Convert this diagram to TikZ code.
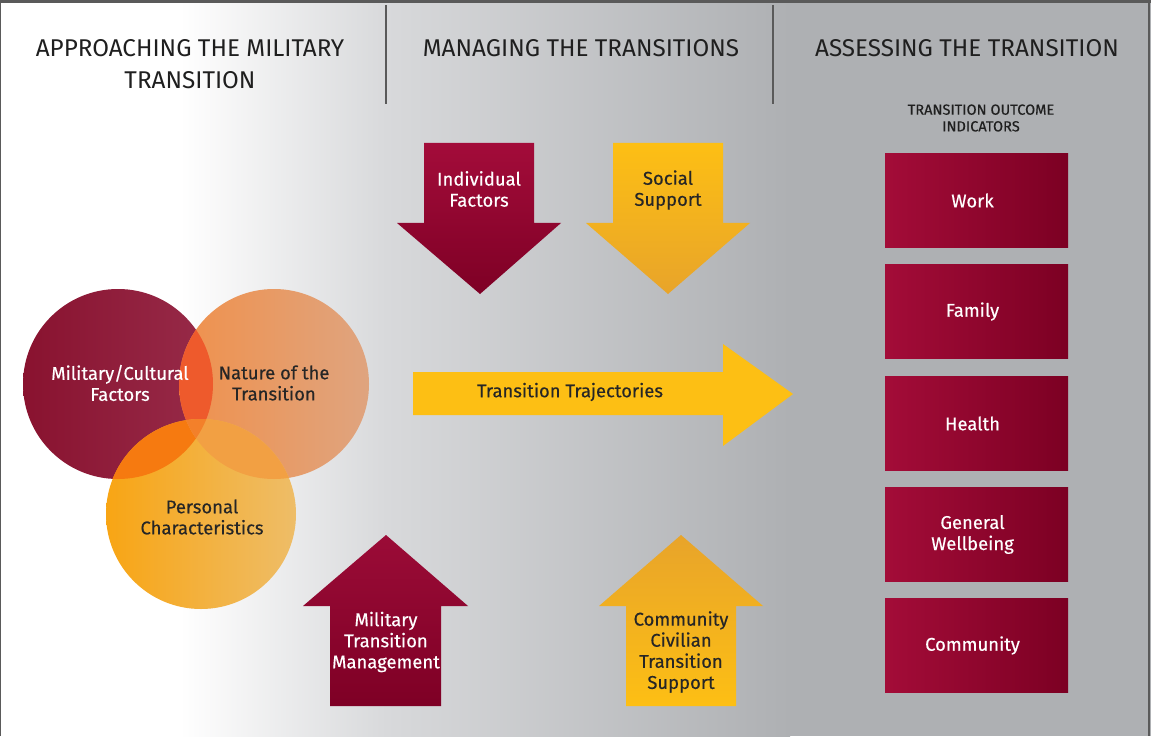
\documentclass[tikz,border=0pt]{standalone}
\usepackage{fontspec}
\setmainfont{Fira Sans}
\newfontfamily\labelfont[FakeBold=0.35]{Fira Sans}
\usepackage{tikz}
\usetikzlibrary{positioning}
\definecolor{BgMid}{HTML}{D8D9DB}
\definecolor{BgDark}{HTML}{AEB0B3}
\definecolor{FrameGray}{HTML}{5A5A5A}
\definecolor{HdrText}{HTML}{1F1F1F}
\definecolor{DarkText}{HTML}{262626}
\definecolor{MarTop}{HTML}{A30C3A}
\definecolor{MarBot}{HTML}{7E0025}
\definecolor{GoldTop}{HTML}{FDBF14}
\definecolor{GoldBot}{HTML}{E8A42A}
\definecolor{OutLeft}{HTML}{A30C38}
\definecolor{OutMid}{HTML}{84002A}
\definecolor{OutRight}{HTML}{7C0023}
\definecolor{CircMar}{HTML}{89122F}
\definecolor{CircMarR}{HTML}{972B49}
\definecolor{CircOra}{HTML}{F0914C}
\definecolor{CircOraR}{HTML}{DFA47F}
\definecolor{CircYel}{HTML}{F8A514}
\definecolor{CircYelR}{HTML}{EEBD68}
\definecolor{LensRO}{HTML}{EE5A2C}
\definecolor{LensMY}{HTML}{F67A10}
\definecolor{LensOY}{HTML}{F2A043}
\definecolor{LensAll}{HTML}{F3802A}

\begin{document}
\begin{tikzpicture}[
    x=0.02cm,y=-0.02cm,
    hdr/.style={font=\fontsize{13.8}{18}\selectfont, text=HdrText, align=center, inner sep=0pt},
    lbl/.style={font=\labelfont\fontsize{10.5}{12}\selectfont, align=center, inner sep=0pt},
    outcome/.style={minimum width=3.66cm, minimum height=1.9cm, inner sep=0pt, left color=OutLeft, middle color=OutMid, right color=OutRight},
    outtext/.style={lbl, text=white}
  ]
    \useasboundingbox (0,0) rectangle (1151,736);
    % background
    \fill[white] (0,0) rectangle (1151,736);
    \shade[left color=white, right color=BgMid] (180,0) rectangle (386,736);
    \shade[left color=BgMid, right color=BgDark] (386,0) rectangle (790,736);
    \fill[BgDark] (790,0) rectangle (1151,736);
    \draw[FrameGray, line width=0.6pt] (0.5,736) -- (0.5,1) (1149,1) -- (1149,736);
    \draw[FrameGray, line width=1.6pt] (0,1.5) -- (1151,1.5);
    \draw[FrameGray, line width=0.6pt] (386,5) -- (386,104);
    \draw[FrameGray, line width=0.6pt] (773,5) -- (773,104);
    % headings
    \node[hdr] (approach) at (190,64) {APPROACHING THE MILITARY\\TRANSITION};
    \node[hdr] (managing) at (581,48) {MANAGING THE TRANSITIONS};
    \node[hdr] (assessing) at (967,48) {ASSESSING THE TRANSITION};
    \node[font=\labelfont\fontsize{8.3}{9.5}\selectfont, text=HdrText, align=center, inner sep=0pt] (indicators) at (981,118) {TRANSITION OUTCOME\\INDICATORS};
    % circles
    \coordinate (mc) at (118,384);
    \coordinate (nc) at (274,384);
    \coordinate (pc) at (201,514);
    \shade[left color=CircMar, middle color=CircMar, right color=CircMarR] (mc) circle[radius=95];
    \shade[left color=CircOra, right color=CircOraR] (nc) circle[radius=95];
    \shade[left color=CircYel, right color=CircYelR] (pc) circle[radius=95];
    \begin{scope}
      \clip (mc) circle[radius=95];
      \fill[LensRO] (nc) circle[radius=95];
      \fill[LensMY] (pc) circle[radius=95];
    \end{scope}
    \begin{scope}
      \clip (nc) circle[radius=95];
      \fill[LensOY] (pc) circle[radius=95];
      \clip (mc) circle[radius=95];
      \fill[LensAll] (pc) circle[radius=95];
    \end{scope}
    \node[lbl, text=white] (milcult) at (120,383) {Military/Cultural\\Factors};
    \node[lbl, text=DarkText] (nature) at (274,383) {Nature of the\\Transition};
    \node[lbl, text=DarkText] (personal) at (202,517) {Personal\\Characteristics};
    % arrows down
    \shade[top color=MarTop, bottom color=MarBot] (424,143) -- (534,143) -- (534,223) -- (561,223) -- (480,294) -- (397,223) -- (424,223) -- cycle;
    \node[lbl, text=white] (indiv) at (479,189) {Individual\\Factors};
    \shade[top color=GoldTop, bottom color=GoldBot] (613,143) -- (723,143) -- (723,223) -- (750,223) -- (668,294) -- (586,223) -- (613,223) -- cycle;
    \node[lbl, text=DarkText] (social) at (668,190) {Social\\Support};
    % arrows up
    \shade[top color=MarTop!95!black, bottom color=MarBot] (386,535) -- (468,606) -- (441,606) -- (441,706) -- (330,706) -- (330,606) -- (303,606) -- cycle;
    \node[lbl, text=white] (milmgmt) at (386,642) {Military\\Transition\\Management};
    \shade[top color=GoldBot, bottom color=GoldTop] (681,535) -- (763,606) -- (736,606) -- (736,706) -- (626,706) -- (626,606) -- (599,606) -- cycle;
    \node[lbl, text=DarkText] (community) at (681,652) {Community\\Civilian\\Transition\\Support};
    % trajectory arrow
    \fill[GoldTop] (413,372) -- (723,372) -- (723,344) -- (793,394) -- (723,446) -- (723,415) -- (413,415) -- cycle;
    \node[lbl, text=DarkText] (traj) at (570,392) {Transition Trajectories};
    % outcome indicators
    \foreach \y/\n/\t in {200.5/work/Work,311.5/family/Family,423.5/health/Health,534.5/wellbeing/General\\Wellbeing,645.5/commun/Community} {
      \node[outcome] (\n) at (976.5,\y) {};
      \node[outtext] (\n-txt) at ([xshift=-0.08cm]\n.center) {\t};
    }
\end{tikzpicture}
\end{document}
